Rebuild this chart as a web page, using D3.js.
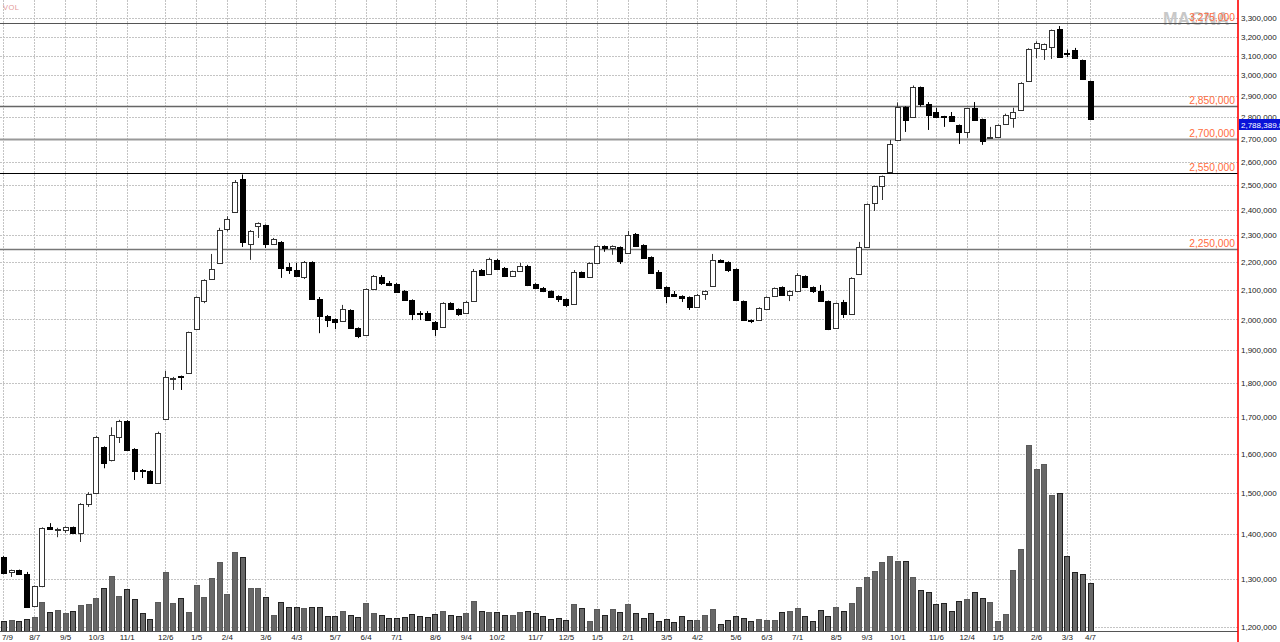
<!DOCTYPE html>
<html>
<head>
<meta charset="utf-8">
<script src="https://cdn.jsdelivr.net/npm/d3@7"></script>
<style>
  html, body { margin: 0; padding: 0; background: #fff; }
  svg { display: block; font-family: "Liberation Sans", Arial, sans-serif; }
</style>
</head>
<body>
<div id="chart"></div>
<script>
// weekly candles, prices in thousands: [open, high, low, close]
var ohlc = [
  [1348,1350,1310,1312],[1315,1320,1304,1319],[1319,1320,1309,1310],[1311,1315,1239,1240],
  [1243,1285,1241,1284],[1284,1416,1282,1414],[1416,1426,1410,1412],[1412,1415,1393,1413],
  [1410,1418,1403,1417],[1417,1418,1403,1403],[1403,1474,1382,1472],[1472,1501,1465,1496],
  [1498,1648,1496,1645],[1618,1620,1562,1575],[1583,1672,1580,1650],[1645,1693,1629,1690],
  [1690,1692,1608,1610],[1613,1615,1532,1555],[1557,1560,1537,1555],[1555,1557,1523,1525],
  [1525,1660,1523,1655],[1695,1836,1693,1818],[1812,1818,1779,1815],[1820,1822,1779,1817],
  [1830,1960,1828,1958],[1968,2078,1966,2076],[2062,2138,2055,2136],[2139,2230,2137,2175],
  [2197,2329,2195,2321],[2325,2374,2315,2364],[2391,2521,2389,2513],[2525,2545,2256,2275],
  [2268,2320,2208,2317],[2336,2350,2290,2348],[2340,2342,2252,2268],[2268,2290,2265,2286],
  [2275,2278,2143,2178],[2182,2197,2157,2171],[2171,2197,2150,2150],[2146,2204,2139,2201],
  [2201,2203,2068,2069],[2069,2076,1955,2012],[2012,2015,1975,1998],[2001,2003,1968,1991],
  [1995,2049,1993,2035],[2032,2034,1970,1972],[1972,1974,1939,1946],[1949,2106,1947,2104],
  [2104,2153,2102,2150],[2146,2153,2118,2125],[2125,2132,2114,2118],[2122,2125,2090,2093],
  [2097,2100,2064,2066],[2066,2068,1998,2018],[2022,2028,1998,2020],[2022,2028,1996,1998],
  [1991,1995,1946,1968],[1975,2058,1972,2055],[2055,2058,2032,2035],[2035,2037,2012,2018],
  [2022,2062,2018,2059],[2062,2175,2060,2167],[2171,2175,2150,2153],[2157,2216,2155,2212],
  [2208,2212,2172,2175],[2178,2182,2148,2150],[2150,2169,2148,2167],[2167,2197,2165,2186],
  [2186,2190,2114,2118],[2122,2124,2104,2107],[2107,2111,2093,2097],[2097,2099,2074,2076],
  [2080,2082,2059,2069],[2069,2071,2042,2049],[2052,2171,2050,2164],[2164,2166,2144,2146],
  [2146,2199,2144,2197],[2197,2262,2195,2260],[2260,2262,2238,2253],[2253,2262,2227,2260],
  [2256,2258,2193,2204],[2234,2317,2232,2301],[2305,2309,2258,2260],[2264,2266,2213,2215],
  [2219,2221,2157,2160],[2164,2171,2105,2107],[2111,2113,2055,2080],[2087,2097,2078,2080],
  [2080,2082,2059,2073],[2076,2078,2032,2042],[2042,2087,2040,2083],[2087,2099,2066,2097],
  [2114,2230,2112,2208],[2208,2210,2199,2201],[2201,2203,2164,2171],[2175,2177,2064,2066],
  [2062,2064,1996,1998],[1998,2000,1988,1995],[1998,2041,1996,2039],[2035,2078,2033,2076],
  [2080,2109,2078,2107],[2111,2113,2081,2083],[2083,2099,2062,2097],[2097,2160,2095,2153],
  [2150,2152,2109,2111],[2111,2113,2090,2097],[2097,2118,2060,2062],[2062,2064,1965,1968],
  [1972,2057,1970,2055],[2059,2066,2005,2018],[2018,2145,2016,2143],[2157,2275,2155,2256],
  [2256,2425,2254,2423],[2427,2498,2395,2496],[2496,2540,2439,2538],[2555,2695,2553,2677],
  [2695,2868,2693,2848],[2848,2850,2731,2786],[2800,2950,2798,2942],[2942,2945,2848,2862],
  [2862,2870,2740,2810],[2823,2843,2795,2800],[2803,2805,2754,2800],[2805,2823,2779,2781],
  [2763,2765,2677,2731],[2731,2843,2704,2843],[2843,2870,2784,2786],[2790,2792,2673,2690],
  [2704,2754,2702,2708],[2708,2765,2706,2763],[2768,2815,2766,2810],[2795,2843,2750,2823],
  [2832,2966,2830,2962],[2972,3138,2970,3134],[3140,3175,3087,3167],[3134,3163,3078,3161],
  [3145,3237,3083,3235],[3240,3256,3091,3093],[3114,3131,3093,3110],[3131,3140,3086,3088],
  [3078,3080,2980,2982],[2972,2974,2786,2788.3898]
];

// weekly volume (thousands)
var volume = [
  10,11,10,12,14,29,19,21,18,20,26,27,33,43,55,35,42,32,18,12,
  29,59,28,33,19,46,34,53,69,37,79,74,43,43,34,16,29,24,24,23,
  24,24,15,15,20,16,14,28,18,16,13,13,14,17,15,14,17,20,16,15,
  18,30,20,19,19,16,16,19,20,18,15,12,13,11,27,23,10,22,16,22,
  19,27,18,13,18,10,12,9,15,11,11,16,22,7,11,15,13,10,12,11,
  11,19,20,23,15,10,21,15,24,20,28,44,54,60,69,75,70,70,54,41,
  39,27,28,20,30,32,39,33,29,10,17,61,82,186,162,167,136,138,75,59,
  57,48
];

// month labels: candle index and text
var xTickIdx = [0,4,8,12,16,21,25,29,34,38,43,47,51,56,60,64,69,73,77,81,86,90,95,99,103,108,112,116,121,125,129,134,138,141];
var xTickLabels = ["7/9","8/7","9/5","10/3","11/1","12/6","1/5","2/4","3/6","4/3","5/7","6/4","7/1","8/6","9/4","10/2","11/7","12/5","1/5","2/1","3/5","4/2","5/6","6/3","7/1","8/5","9/3","10/1","11/6","12/4","1/5","2/6","3/3","4/7"];

var yTicks = d3.range(1200000, 3300001, 100000);

// horizontal level lines
var levels = [3275000, 2850000, 2700000, 2550000, 2250000];
var levelColors = ["#555", "#666", "#999", "#000", "#777"];
var levelWidths = [1.2, 1.3, 2, 1, 1.6];

var lastPrice = 2788389.8;

var width = 1280, height = 642, plotRight = 1238;

var svg = d3.select("#chart").append("svg")
    .attr("width", width)
    .attr("height", height);

var x = d3.scaleLinear().domain([0, ohlc.length - 1]).range([3.4, 1090]);
var y = d3.scaleLog().domain([1200000, 3300000]).range([627, 18]);
var yVol = d3.scaleLinear().domain([0, 200]).range([631, 431]);

function px(v) { return Math.round(v) + 0.5; }

// grid
var grid = svg.append("g").attr("stroke", "#c4c4c4").attr("stroke-dasharray", "2,1").attr("stroke-width", 1);
grid.selectAll(".hg").data(yTicks).enter().append("line")
    .attr("x1", 0).attr("x2", plotRight)
    .attr("y1", function(d) { return px(y(d)); })
    .attr("y2", function(d) { return px(y(d)); });
grid.selectAll(".vg").data(xTickIdx).enter().append("line")
    .attr("y1", 0).attr("y2", 631)
    .attr("x1", function(d) { return px(x(d)); })
    .attr("x2", function(d) { return px(x(d)); });

// watermark
svg.append("text").attr("x", 1163).attr("y", 25)
    .attr("font-size", 17.5).attr("font-weight", "bold").attr("fill", "#c8c8c8")
    .text("MAGNA");

// level lines + labels
levels.forEach(function(v, i) {
  var yy = Math.round(y(v)) + 0.5;
  svg.append("line").attr("x1", 0).attr("x2", plotRight)
      .attr("y1", yy).attr("y2", yy)
      .attr("stroke", levelColors[i]).attr("stroke-width", levelWidths[i]);
  svg.append("text").attr("x", 1235).attr("y", yy - 3)
      .attr("text-anchor", "end").attr("font-size", 10.3).attr("fill", "#ff6c40")
      .text(d3.format(",")(v));
});

// volume bars
svg.append("g").selectAll("rect").data(volume).enter().append("rect")
    .attr("x", function(d, i) { return Math.round(x(i) - 2.5) + 0.5; })
    .attr("width", 5)
    .attr("y", function(d) { return Math.round(yVol(d)) + 0.5; })
    .attr("height", function(d) { return Math.max(0, Math.round(yVol(0)) - Math.round(yVol(d))); })
    .attr("fill", "#676767")
    .attr("stroke", function(d, i) { return ohlc[i][3] < ohlc[i][0] ? "#222" : "#5a5a5a"; });

// candles
var candle = svg.append("g").selectAll("g").data(ohlc).enter().append("g");
candle.append("line")
    .attr("x1", function(d, i) { return px(x(i)); })
    .attr("x2", function(d, i) { return px(x(i)); })
    .attr("y1", function(d) { return y(d[1] * 1000); })
    .attr("y2", function(d) { return y(d[2] * 1000); })
    .attr("stroke", function(d) { return d[3] < d[0] ? "#000" : "#333"; });
candle.append("rect")
    .attr("x", function(d, i) { return Math.round(x(i) - 2.5) + 0.5; })
    .attr("width", 5)
    .attr("y", function(d) { return Math.round(y(Math.max(d[0], d[3]) * 1000)) + 0.5; })
    .attr("height", function(d) {
      return Math.max(1, Math.round(y(Math.min(d[0], d[3]) * 1000)) - Math.round(y(Math.max(d[0], d[3]) * 1000)));
    })
    .attr("fill", function(d) { return d[3] < d[0] ? "#000" : "#fff"; })
    .attr("stroke", function(d) { return d[3] < d[0] ? "#000" : "#333"; });

// bottom line
svg.append("line").attr("x1", 0).attr("x2", plotRight).attr("y1", 631.5).attr("y2", 631.5)
    .attr("stroke", "#555").attr("stroke-width", 1);

// right axis
var yAxis = svg.append("g").attr("transform", "translate(1241,0)")
    .call(d3.axisRight(y).tickValues(yTicks).tickSize(0).tickPadding(0).tickFormat(d3.format(",")));
yAxis.select(".domain").remove();
yAxis.selectAll("text").attr("font-size", 8).attr("fill", "#222")
    .attr("font-family", "Liberation Sans, Arial, sans-serif");

// bottom axis
var xAxis = svg.append("g").attr("transform", "translate(0,631)")
    .call(d3.axisBottom(x).tickValues(xTickIdx).tickSize(0).tickPadding(3)
      .tickFormat(function(d, i) { return xTickLabels[i]; }));
xAxis.select(".domain").remove();
xAxis.selectAll("text").attr("font-size", 8).attr("fill", "#222")
    .attr("font-family", "Liberation Sans, Arial, sans-serif");
xAxis.select(".tick text").attr("text-anchor", "start").attr("x", -2);

// red axis separator
svg.append("line").attr("x1", 1238).attr("x2", 1238).attr("y1", 0).attr("y2", height)
    .attr("stroke", "#ff0000").attr("stroke-width", 1.6);

// current price tag
svg.append("rect").attr("x", 1239).attr("y", 119).attr("width", 41).attr("height", 11).attr("fill", "#0a14d8");
svg.append("text").attr("x", 1241).attr("y", 127.5).attr("font-size", 8).attr("fill", "#fff")
    .text(d3.format(",.1f")(lastPrice));

// VOL caption
svg.append("text").attr("x", 3).attr("y", 10).attr("font-size", 7.5).attr("fill", "#e49a9a")
    .attr("letter-spacing", 0.5).text("VOL");
</script>
</body>
</html>
